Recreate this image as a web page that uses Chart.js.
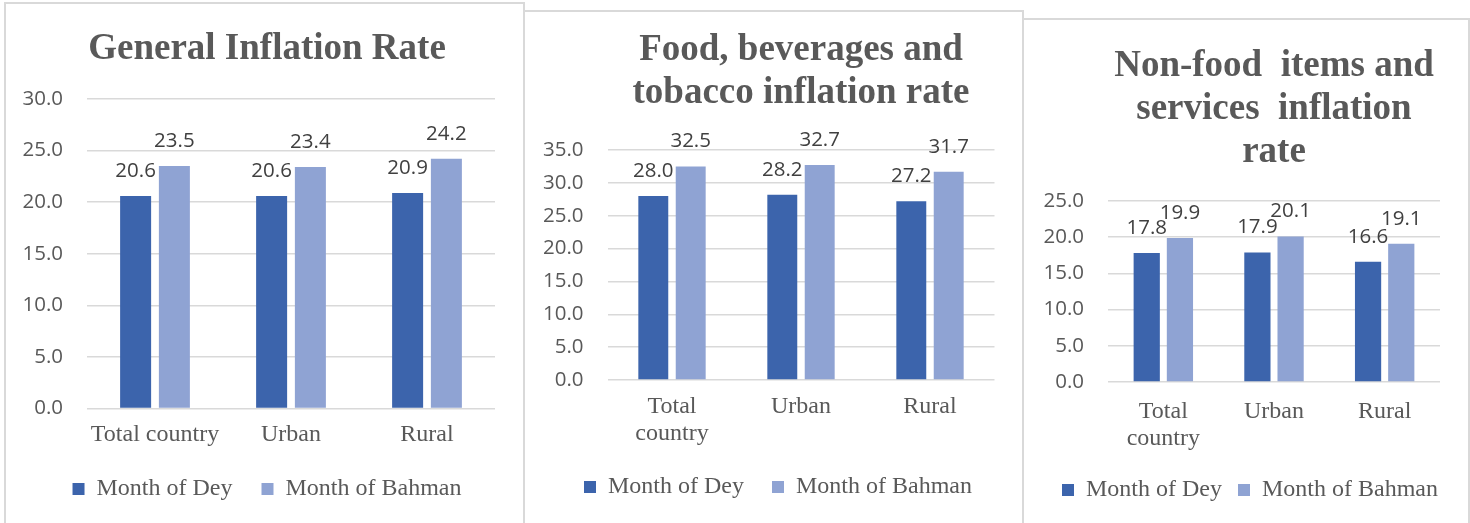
<!DOCTYPE html>
<html>
<head>
<meta charset="utf-8">
<script src="https://cdn.jsdelivr.net/npm/chart.js@4.4.1/dist/chart.umd.min.js"></script>
<style>
  body { margin: 0; background: #fff; width: 1470px; height: 523px; overflow: hidden; position: relative; }
  .frame { position: absolute; border: 2px solid #d9d9d9; box-sizing: border-box; height: 560px; }
  canvas { position: absolute; top: 0; }
</style>
</head>
<body>
<div class="frame" style="left:4px; top:2px; width:521px;"></div>
<div class="frame" style="left:523px; top:10px; width:501px;"></div>
<div class="frame" style="left:1022px; top:18px; width:448px;"></div>
<canvas id="generalChart" width="516" height="523" style="left:6px"></canvas>
<canvas id="foodChart" width="497" height="523" style="left:525px"></canvas>
<canvas id="nonFoodChart" width="443" height="523" style="left:1024px"></canvas>
<script>
// categories and series
const categoriesOneLine = ['Total country', 'Urban', 'Rural'];
const categoriesTwoLines = [['Total', 'country'], 'Urban', 'Rural'];
const seriesNames = ['Month of Dey', 'Month of Bahman'];

const generalDey = [20.6, 20.6, 20.9];
const generalBahman = [23.5, 23.4, 24.2];
const foodDey = [28.0, 28.2, 27.2];
const foodBahman = [32.5, 32.7, 31.7];
const nonFoodDey = [17.8, 17.9, 16.6];
const nonFoodBahman = [19.9, 20.1, 19.1];

const generalTicks = [0, 5, 10, 15, 20, 25, 30];
const foodTicks = [0, 5, 10, 15, 20, 25, 30, 35];
const nonFoodTicks = [0, 5, 10, 15, 20, 25];

const deyColor = '#3c64ac';
const bahmanColor = '#8fa3d3';
const textGray = '#595959';
const serif = '"Liberation Serif", "Times New Roman", serif';
const sans = '"Open Sans", sans-serif';

// value labels above each bar
const barValueLabels = {
    id: 'barValueLabels',
    afterDatasetsDraw(chart) {
        const ctx = chart.ctx;
        ctx.save();
        ctx.font = '20.5px ' + sans;
        ctx.fillStyle = '#404040';
        ctx.textAlign = 'center';
        ctx.textBaseline = 'middle';
        chart.data.datasets.forEach((ds, i) => {
            chart.getDatasetMeta(i).data.forEach((bar, j) => {
                ctx.fillText(ds.data[j].toFixed(1), bar.x, bar.y - 25);
            });
        });
        ctx.restore();
    }
};

function makeChart(id, cfg) {
    const el = document.getElementById(id);
    new Chart(el, {
        type: 'bar',
        data: {
            labels: cfg.labels,
            datasets: [
                { label: seriesNames[0], data: cfg.dey, backgroundColor: deyColor, borderWidth: 0,
                  categoryPercentage: cfg.catPct, barPercentage: cfg.barPct },
                { label: seriesNames[1], data: cfg.bahman, backgroundColor: bahmanColor, borderWidth: 0,
                  categoryPercentage: cfg.catPct, barPercentage: cfg.barPct }
            ]
        },
        plugins: [barValueLabels],
        options: {
            responsive: false,
            animation: false,
            devicePixelRatio: 1,
            layout: { padding: { left: cfg.padLeft, right: cfg.padRight, top: 0, bottom: cfg.padBottom } },
            plugins: {
                title: {
                    display: true,
                    text: cfg.title,
                    color: textGray,
                    fullSize: cfg.titleFull,
                    font: { family: serif, size: 37, weight: 'bold', lineHeight: 1.162 },
                    padding: { top: cfg.titleTop, bottom: cfg.titleBottom }
                },
                legend: {
                    position: 'bottom',
                    labels: {
                        color: textGray,
                        boxWidth: 12,
                        boxHeight: 12,
                        padding: cfg.legendGap,
                        font: { family: serif, size: 24 }
                    }
                },
                tooltip: { enabled: false }
            },
            scales: {
                x: {
                    grid: { display: false, drawTicks: false },
                    border: { display: false },
                    ticks: {
                        color: textGray,
                        padding: cfg.xPad,
                        font: { family: serif, size: 24, lineHeight: 1.13 }
                    },
                    afterFit(scale) { scale.height = cfg.xHeight; }
                },
                y: {
                    min: 0,
                    max: cfg.ticks[cfg.ticks.length - 1],
                    grid: { color: '#d9d9d9', lineWidth: 1.5, drawTicks: false },
                    border: { display: false },
                    afterBuildTicks(scale) { scale.ticks = cfg.ticks.map(v => ({ value: v })); },
                    ticks: {
                        color: textGray,
                        padding: 24,
                        font: { family: sans, size: 20.5 },
                        callback: v => Number(v).toFixed(1)
                    },
                    afterFit(scale) { scale.width = cfg.yWidth; }
                },
                // empty spacer on the right so the legend can sit off-centre like the original
                spacer: {
                    type: 'linear',
                    position: 'right',
                    grid: { display: false, drawTicks: false },
                    border: { display: false },
                    ticks: { display: false },
                    afterFit(scale) { scale.width = cfg.rightGap; }
                }
            }
        }
    });
}

makeChart('generalChart', {
    title: 'General Inflation Rate',
    labels: categoriesOneLine,
    dey: generalDey, bahman: generalBahman, ticks: generalTicks,
    titleFull: true, titleTop: 27.5, titleBottom: 28.5,
    padLeft: 15, padRight: 9, rightGap: 18, padBottom: 12,
    yWidth: 66, xHeight: 39.5, xPad: 13, legendGap: 29,
    catPct: 0.57, barPct: 0.8
});

makeChart('foodChart', {
    title: ['Food, beverages and', 'tobacco inflation rate'],
    labels: categoriesTwoLines,
    dey: foodDey, bahman: foodBahman, ticks: foodTicks,
    titleFull: false, titleTop: 28.5, titleBottom: 35.5,
    padLeft: 16, padRight: 7, rightGap: 20.5, padBottom: 14,
    yWidth: 66.5, xHeight: 67, xPad: 13.5, legendGap: 28,
    catPct: 0.58, barPct: 0.8
});

makeChart('nonFoodChart', {
    title: ['Non-food  items and', 'services  inflation', 'rate'],
    labels: categoriesTwoLines,
    dey: nonFoodDey, bahman: nonFoodBahman, ticks: nonFoodTicks,
    titleFull: false, titleTop: 44.5, titleBottom: 27.5,
    padLeft: 18, padRight: 9, rightGap: 18, padBottom: 11,
    yWidth: 66, xHeight: 80, xPad: 16, legendGap: 16,
    catPct: 0.6, barPct: 0.79
});
</script>
</body>
</html>
